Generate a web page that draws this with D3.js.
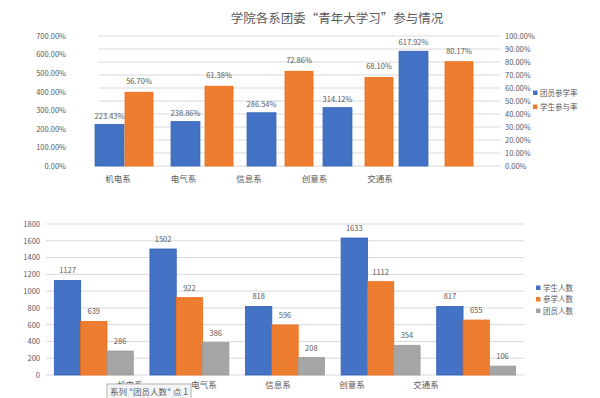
<!DOCTYPE html>
<html>
<head>
<meta charset="utf-8">
<script src="https://cdn.jsdelivr.net/npm/d3@7"></script>
<style>
  body { margin: 0; background: #fff; }
  svg text { font-family: "Noto Sans CJK SC", "DejaVu Sans", sans-serif; fill: #595959; }
</style>
</head>
<body>
<div id="chart"></div>
<script>
'use strict';

// top chart data
var depts = ["机电系", "电气系", "信息系", "创意系", "交通系"];
var memberRate = [223.43, 238.86, 286.54, 314.12, 617.92];   // 团员参学率 (left axis)
var studentRate = [56.70, 61.38, 72.86, 68.10, 80.17];       // 学生参与率 (right axis)
var leftTicks = [0, 100, 200, 300, 400, 500, 600, 700];
var rightTicks = [0, 10, 20, 30, 40, 50, 60, 70, 80, 90, 100];

// bottom chart data
var studentCount = [1127, 1502, 818, 1633, 817];   // 学生人数
var joinCount = [639, 922, 596, 1112, 655];        // 参学人数
var memberCount = [286, 386, 208, 354, 106];       // 团员人数
var countTicks = [0, 200, 400, 600, 800, 1000, 1200, 1400, 1600, 1800];

var blue = "#4472C4", orange = "#ED7D31", gray = "#A5A5A5";

var svg = d3.select("#chart").append("svg")
  .attr("width", 600)
  .attr("height", 398);

// ---------- top chart ----------
var top1 = svg.append("g");

top1.append("text")
  .attr("x", 337).attr("y", 23)
  .attr("text-anchor", "middle")
  .style("font-size", "12.5px")
  .text("学院各系团委“青年大学习”参与情况");

var yL = d3.scaleLinear().domain([0, 700]).range([166, 36]);
var yR = d3.scaleLinear().domain([0, 100]).range([166, 36]);

// gridlines follow the right axis
top1.append("g")
  .selectAll("line")
  .data(rightTicks)
  .enter()
  .append("line")
    .attr("x1", 98).attr("x2", 500)
    .attr("y1", function(d) { return yR(d); })
    .attr("y2", function(d) { return yR(d); })
    .attr("stroke", "#d9d9d9")
    .attr("stroke-width", 1);

var axL = top1.append("g")
  .attr("transform", "translate(66,0)")
  .call(d3.axisLeft(yL).tickValues(leftTicks).tickSize(0).tickPadding(0)
    .tickFormat(function(d) { return d.toFixed(2) + "%"; }));
axL.select(".domain").remove();

var axR = top1.append("g")
  .attr("transform", "translate(505,0)")
  .call(d3.axisRight(yR).tickValues(rightTicks).tickSize(0).tickPadding(0)
    .tickFormat(function(d) { return d.toFixed(2) + "%"; }));
axR.select(".domain").remove();

top1.selectAll(".tick text").style("font-size", "7.5px").attr("fill", "#595959");

// blue and orange series sit on their own category bands
var xBlue = d3.scaleBand().domain(depts).range([71.5, 451.5]).paddingInner(0.62).paddingOuter(0.31);
var xOrange = d3.scaleBand().domain(depts).range([99, 499]).paddingInner(0.65).paddingOuter(0.325);

top1.append("g")
  .selectAll("rect")
  .data(memberRate)
  .enter()
  .append("rect")
    .attr("x", function(d, i) { return xBlue(depts[i]); })
    .attr("y", function(d) { return yL(d); })
    .attr("width", xBlue.bandwidth())
    .attr("height", function(d) { return yL(0) - yL(d); })
    .attr("fill", blue)
    .attr("stroke", "#2f5fb8")
    .attr("stroke-width", 0.8);

top1.append("g")
  .selectAll("rect")
  .data(studentRate)
  .enter()
  .append("rect")
    .attr("x", function(d, i) { return xOrange(depts[i]); })
    .attr("y", function(d) { return yR(d); })
    .attr("width", xOrange.bandwidth())
    .attr("height", function(d) { return yR(0) - yR(d); })
    .attr("fill", orange)
    .attr("stroke", "#f06a10")
    .attr("stroke-width", 0.8);

top1.append("g")
  .selectAll("text")
  .data(memberRate)
  .enter()
  .append("text")
    .attr("x", function(d, i) { return xBlue(depts[i]) + xBlue.bandwidth() / 2; })
    .attr("y", function(d) { return yL(d) - 6; })
    .attr("text-anchor", "middle")
    .style("font-size", "7.5px")
    .text(function(d) { return d.toFixed(2) + "%"; });

top1.append("g")
  .selectAll("text")
  .data(studentRate)
  .enter()
  .append("text")
    .attr("x", function(d, i) { return xOrange(depts[i]) + xOrange.bandwidth() / 2; })
    .attr("y", function(d) { return yR(d) - 8; })
    .attr("text-anchor", "middle")
    .style("font-size", "7.5px")
    .text(function(d) { return d.toFixed(2) + "%"; });

// category labels (excel left them off-grid)
var xLab1 = d3.scalePoint().domain(depts).range([118, 380]);
top1.append("g")
  .selectAll("text")
  .data(depts)
  .enter()
  .append("text")
    .attr("x", function(d) { return xLab1(d); })
    .attr("y", 182)
    .attr("text-anchor", "middle")
    .style("font-size", "8.5px")
    .text(function(d) { return d; });

var legend1 = [["团员参学率", blue], ["学生参与率", orange]];
var lg1 = top1.append("g")
  .selectAll("g")
  .data(legend1)
  .enter()
  .append("g")
    .attr("transform", function(d, i) { return "translate(533," + (93 + i * 14) + ")"; });
lg1.append("rect").attr("x", 0).attr("y", -2.5).attr("width", 4.5).attr("height", 4.5)
  .attr("fill", function(d) { return d[1]; });
lg1.append("text").attr("x", 7).attr("y", 2.8).style("font-size", "7.5px")
  .text(function(d) { return d[0]; });

// ---------- bottom chart ----------
var bot = svg.append("g");

var yC = d3.scaleLinear().domain([0, 1800]).range([375, 224]);
var x0 = d3.scaleBand().domain(depts).range([46, 524]).paddingInner(0.174).paddingOuter(0.087);
var series = [["学生人数", studentCount, blue, "#2f5fb8"],
              ["参学人数", joinCount, orange, "#f06a10"],
              ["团员人数", memberCount, gray, "#9a9a9a"]];
var x1 = d3.scaleBand().domain(series.map(function(s) { return s[0]; })).range([0, x0.bandwidth()]);

bot.append("g")
  .selectAll("line")
  .data(countTicks)
  .enter()
  .append("line")
    .attr("x1", 46).attr("x2", 524)
    .attr("y1", function(d) { return yC(d); })
    .attr("y2", function(d) { return yC(d); })
    .attr("stroke", "#d9d9d9")
    .attr("stroke-width", 1);

var axC = bot.append("g")
  .attr("transform", "translate(40,0)")
  .call(d3.axisLeft(yC).tickValues(countTicks).tickSize(0).tickPadding(0)
    .tickFormat(d3.format("d")));
axC.select(".domain").remove();
axC.selectAll(".tick text").style("font-size", "7.5px").attr("fill", "#595959");

series.forEach(function(s) {
  var g = bot.append("g");
  g.selectAll("rect")
    .data(s[1])
    .enter()
    .append("rect")
      .attr("x", function(d, i) { return x0(depts[i]) + x1(s[0]); })
      .attr("y", function(d) { return yC(d); })
      .attr("width", x1.bandwidth())
      .attr("height", function(d) { return yC(0) - yC(d); })
      .attr("fill", s[2])
      .attr("stroke", s[3])
      .attr("stroke-width", 0.8);
  g.selectAll("text")
    .data(s[1])
    .enter()
    .append("text")
      .attr("x", function(d, i) { return x0(depts[i]) + x1(s[0]) + x1.bandwidth() / 2; })
      .attr("y", function(d) { return yC(d) - 7; })
      .attr("text-anchor", "middle")
      .style("font-size", "7.5px")
      .text(function(d) { return d; });
});

var xLab2 = d3.scalePoint().domain(depts).range([130, 426]);
bot.append("g")
  .selectAll("text")
  .data(depts)
  .enter()
  .append("text")
    .attr("x", function(d) { return xLab2(d); })
    .attr("y", 388)
    .attr("text-anchor", "middle")
    .style("font-size", "8.5px")
    .text(function(d) { return d; });

var lg2 = bot.append("g")
  .selectAll("g")
  .data(series)
  .enter()
  .append("g")
    .attr("transform", function(d, i) { return "translate(536," + (288 + i * 11.5) + ")"; });
lg2.append("rect").attr("x", 0).attr("y", -2.5).attr("width", 4.5).attr("height", 4.5)
  .attr("fill", function(d) { return d[2]; });
lg2.append("text").attr("x", 7).attr("y", 2.8).style("font-size", "7.5px")
  .text(function(d) { return d[0]; });

// hover tooltip left in the screenshot (covers part of the first label)
var tip = bot.append("g").attr("transform", "translate(107,384)");
tip.append("rect").attr("width", 84).attr("height", 20)
  .attr("fill", "#f5f5f5").attr("stroke", "#a0a0a0").attr("stroke-width", 0.8);
tip.append("text").attr("x", 3).attr("y", 10.5).style("font-size", "8.5px").attr("fill", "#333")
  .text("系列 \"团员人数\" 点 1");
tip.append("text").attr("x", 3).attr("y", 21).style("font-size", "8.5px").attr("fill", "#333")
  .text("值: " + memberCount[0]);
</script>
</body>
</html>
